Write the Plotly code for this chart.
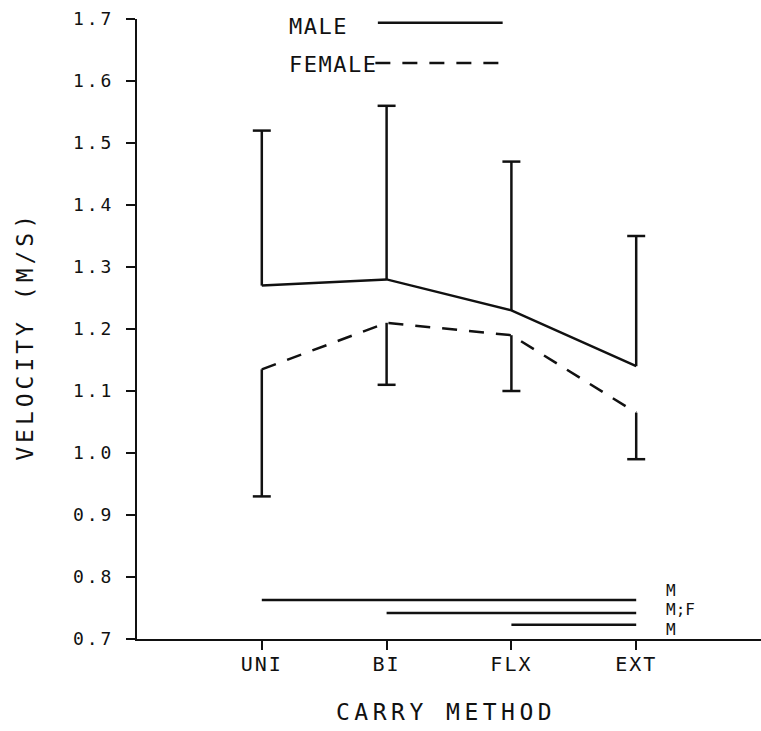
import plotly.graph_objects as go

# Carry methods on the horizontal axis
methods = ["UNI", "BI", "FLX", "EXT"]

# Mean walking velocity (m/s) and the end of each one-sided SD bar
male_mean = [1.27, 1.28, 1.23, 1.14]
male_upper = [1.52, 1.56, 1.47, 1.35]
female_mean = [1.135, 1.21, 1.19, 1.065]
female_lower = [0.93, 1.11, 1.10, 0.99]

# Vertical axis ticks
y_ticks = [0.7, 0.8, 0.9, 1.0, 1.1, 1.2, 1.3, 1.4, 1.5, 1.6, 1.7]

# Significant pairwise differences drawn as bars under the curves
sig_from = ["UNI", "BI", "FLX"]
sig_to = ["EXT", "EXT", "EXT"]
sig_level = [0.763, 0.742, 0.723]
sig_text = ["M", "M;F", "M"]

FONT = "DejaVu Sans Mono"
INK = "#111111"
LW = 2.5
pos = {m: i + 1 for i, m in enumerate(methods)}
xs = [pos[m] for m in methods]


def spaced(text, px):
    return f'<span style="letter-spacing:{px}px">{text}</span>'


def whiskers(x, start, end, half):
    wx, wy = [], []
    for xi, a, b in zip(x, start, end):
        wx += [xi, xi, None, xi - half, xi + half, None]
        wy += [a, b, None, b, b, None]
    return wx, wy


fig = go.Figure()

# male: solid line with upward bars
fig.add_trace(go.Scatter(x=xs, y=male_mean, mode="lines",
                         line=dict(color=INK, width=LW), hoverinfo="skip"))
wx, wy = whiskers(xs, male_mean, male_upper, 0.072)
fig.add_trace(go.Scatter(x=wx, y=wy, mode="lines",
                         line=dict(color=INK, width=LW), hoverinfo="skip"))

# female: dashed line with downward bars
fig.add_trace(go.Scatter(x=xs, y=female_mean, mode="lines",
                         line=dict(color=INK, width=LW, dash="15px,12px"),
                         hoverinfo="skip"))
wx, wy = whiskers(xs, female_mean, female_lower, 0.072)
fig.add_trace(go.Scatter(x=wx, y=wy, mode="lines",
                         line=dict(color=INK, width=LW), hoverinfo="skip"))

# significance bars
for a, b, lvl in zip(sig_from, sig_to, sig_level):
    fig.add_trace(go.Scatter(x=[pos[a], pos[b]], y=[lvl, lvl], mode="lines",
                             line=dict(color=INK, width=LW), hoverinfo="skip"))

annotations = []
label_y = [0.778, 0.7468, 0.7157]
for txt, ly in zip(sig_text, label_y):
    annotations.append(dict(x=pos["EXT"] + 0.23, y=ly, xref="x", yref="y",
                            text=txt, showarrow=False, xanchor="left",
                            yanchor="middle", borderpad=0,
                            font=dict(family=FONT, size=16, color=INK)))

# legend drawn in the upper part of the plot
annotations.append(dict(x=1.2, y=1.688, xref="x", yref="y", text=spaced("MALE", 1.5),
                        showarrow=False, xanchor="left", yanchor="middle",
                        font=dict(family=FONT, size=22, color=INK)))
annotations.append(dict(x=1.2, y=1.626, xref="x", yref="y", text=spaced("FEMALE", 1.5),
                        showarrow=False, xanchor="left", yanchor="middle",
                        font=dict(family=FONT, size=22, color=INK)))
shapes = [
    dict(type="line", xref="x", yref="y", x0=1.93, x1=2.93, y0=1.694, y1=1.694,
         line=dict(color=INK, width=LW)),
    dict(type="line", xref="x", yref="y", x0=1.91, x1=2.96, y0=1.629, y1=1.629,
         line=dict(color=INK, width=LW, dash="15px,12px")),
]

# axis titles
annotations.append(dict(x=-0.1795, y=0.489, xref="paper", yref="paper",
                        text=spaced("VELOCITY (M/S)", 4), textangle=-90,
                        showarrow=False, xanchor="center", yanchor="middle",
                        font=dict(family=FONT, size=23, color=INK)))
annotations.append(dict(x=0.495, y=-0.118, xref="paper", yref="paper",
                        text=spaced("CARRY METHOD", 4.5),
                        showarrow=False, xanchor="center", yanchor="middle",
                        font=dict(family=FONT, size=23, color=INK)))

fig.update_layout(
    width=761, height=731,
    margin=dict(l=137, r=0, t=19, b=92),
    paper_bgcolor="white", plot_bgcolor="white",
    showlegend=False,
    annotations=annotations,
    shapes=shapes,
    xaxis=dict(range=[0, 5], tickvals=xs,
               ticktext=[spaced(m, 2) for m in methods],
               showline=True, linecolor=INK, linewidth=2,
               ticks="outside", ticklen=9, tickwidth=2, tickcolor=INK,
               showgrid=False, zeroline=False, ticklabelstandoff=-3,
               tickfont=dict(family=FONT, size=20, color=INK)),
    yaxis=dict(range=[0.7, 1.7], tickvals=y_ticks,
               ticktext=[spaced(f"{v:.1f}", 3) for v in y_ticks],
               showline=True, linecolor=INK, linewidth=2,
               ticks="outside", ticklen=9, tickwidth=2, tickcolor=INK,
               showgrid=False, zeroline=False, ticklabelstandoff=8,
               tickfont=dict(family=FONT, size=18, color=INK)),
)

fig.write_html("out.html")
